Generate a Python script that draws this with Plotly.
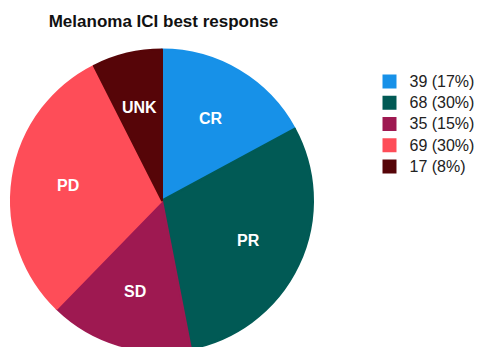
import math
import plotly.graph_objects as go

# Best overall response to immune checkpoint inhibitors (melanoma cohort)
categories = ["CR", "PR", "SD", "PD", "UNK"]
counts = [39, 68, 35, 69, 17]
percent_labels = ["17%", "30%", "15%", "30%", "8%"]
colors = ["#1791E8", "#015A55", "#9E1951", "#FE4D58", "#560508"]

FONT = "Liberation Sans, Arial, Helvetica, sans-serif"
W, H = 481, 352

# legend entries: "count (percent)", drawn a little larger than the row pitch
legend_labels = [
    f'<span style="font-size:16px">{n} ({p})</span>'
    for n, p in zip(counts, percent_labels)
]

# pie placement (pixels): left/right edges and top edge of the disc
pie_left, pie_right, pie_top = 11, 313, 49
dom_x = [pie_left / W, pie_right / W]
dom_y = [0, 1 - pie_top / H]

fig = go.Figure(
    go.Pie(
        labels=legend_labels,
        values=counts,
        customdata=categories,
        textinfo="none",
        sort=False,
        direction="clockwise",
        rotation=0,
        marker=dict(colors=colors, line=dict(color=colors, width=2)),
        hovertemplate="%{customdata}: %{value}<extra></extra>",
        domain=dict(x=dom_x, y=dom_y),
    )
)

# category names inside each slice, at the slice's mid-angle
radius = (pie_right - pie_left) / 2
cx = (pie_left + pie_right) / 2
cy = pie_top + radius
total = sum(counts)
label_frac = 0.63
cum = 0
for name, n in zip(categories, counts):
    mid = (cum + n / 2) / total * 2 * math.pi
    cum += n
    px = cx + label_frac * radius * math.sin(mid)
    py = cy - label_frac * radius * math.cos(mid)
    fig.add_annotation(
        x=px / W, y=1 - py / H, xref="paper", yref="paper",
        text=name, showarrow=False, xanchor="center", yanchor="middle",
        font=dict(family=FONT, size=16, color="white", weight="bold"),
    )

fig.update_layout(
    width=W,
    height=H,
    margin=dict(l=0, r=0, t=0, b=0),
    paper_bgcolor="white",
    plot_bgcolor="white",
    title=dict(
        text="Melanoma ICI best response",
        x=163.5 / W,
        xanchor="center",
        y=1 - 21 / H,
        yanchor="middle",
        font=dict(family=FONT, size=17, color="#111111", weight="bold"),
    ),
    legend=dict(
        x=369.5 / W,
        y=1 - 66 / H,
        xanchor="left",
        yanchor="top",
        font=dict(family=FONT, size=14, color="#222222"),
        bgcolor="rgba(0,0,0,0)",
    ),
    showlegend=True,
)

fig.write_html(
    "out.html",
    post_script="document.documentElement.style.overflow='hidden';"
                "document.body.style.overflow='hidden';",
)
